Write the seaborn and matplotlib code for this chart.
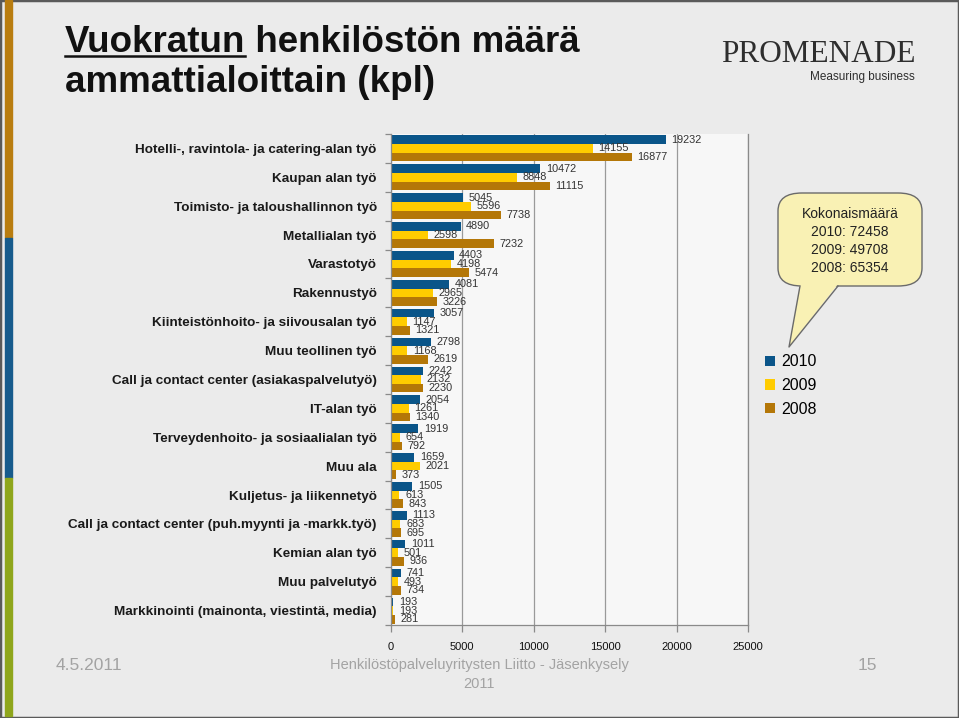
import matplotlib
matplotlib.use("Agg")
import matplotlib.pyplot as plt
import seaborn as sns
import pandas as pd
from matplotlib.patches import Rectangle, FancyBboxPatch, Polygon
from matplotlib.lines import Line2D

occupations = [
    "Hotelli-, ravintola- ja catering-alan työ",
    "Kaupan alan työ",
    "Toimisto- ja taloushallinnon työ",
    "Metallialan työ",
    "Varastotyö",
    "Rakennustyö",
    "Kiinteistönhoito- ja siivousalan työ",
    "Muu teollinen työ",
    "Call ja contact center (asiakaspalvelutyö)",
    "IT-alan työ",
    "Terveydenhoito- ja sosiaalialan työ",
    "Muu ala",
    "Kuljetus- ja liikennetyö",
    "Call ja contact center (puh.myynti ja -markk.työ)",
    "Kemian alan työ",
    "Muu palvelutyö",
    "Markkinointi (mainonta, viestintä, media)",
]
values_2010 = [19232, 10472, 5045, 4890, 4403, 4081, 3057, 2798, 2242, 2054, 1919, 1659, 1505, 1113, 1011, 741, 193]
values_2009 = [14155, 8848, 5596, 2598, 4198, 2965, 1147, 1168, 2132, 1261, 654, 2021, 613, 683, 501, 493, 193]
values_2008 = [16877, 11115, 7738, 7232, 5474, 3226, 1321, 2619, 2230, 1340, 792, 373, 843, 695, 936, 734, 281]
years = ["2010", "2009", "2008"]
totals = [72458, 49708, 65354]
year_colors = ["#0a5589", "#ffcc00", "#b47708"]

W, H = 959, 718


def fx(px):
    return px / W


def fy(py):
    return 1 - py / H


df = pd.DataFrame({
    "Ammattiala": occupations * 3,
    "Vuosi": [y for y in years for _ in occupations],
    "Määrä": values_2010 + values_2009 + values_2008,
})

plt.rcParams["font.family"] = ["Liberation Sans", "DejaVu Sans"]

fig = plt.figure(figsize=(W / 100, H / 100), dpi=100, facecolor="#ebebeb")

# slide frame and coloured stripe on the left
fig.patches.append(Rectangle((0, 0), 1, 1, transform=fig.transFigure, fill=False,
                             edgecolor="#5a5a5a", lw=2.5, zorder=0))
for y0, y1, c in [(0, 238, "#b97d10"), (238, 478, "#175b8c"), (478, 716, "#8fa61c")]:
    fig.patches.append(Rectangle((fx(5), fy(y1)), fx(7), (y1 - y0) / H,
                                 transform=fig.transFigure, color=c, zorder=1))

ax = fig.add_axes([fx(390.7), fy(625), fx(748 - 390.7), (625 - 134) / H])
ax.set_facecolor("#f7f7f7")

sns.barplot(data=df, y="Ammattiala", x="Määrä", hue="Vuosi", hue_order=years,
            palette=year_colors, orient="h", width=0.9, saturation=1,
            errorbar=None, linewidth=0, ax=ax)

for cont in ax.containers:
    ax.bar_label(cont, padding=4, fontsize=7.8, color="#333333")

ax.set_xlim(0, 25000)
ax.set_xticks(range(0, 25001, 5000))
ax.xaxis.grid(True, color="#9a9a9a", lw=0.9)
ax.set_axisbelow(True)
ax.set_xlabel("")
ax.set_ylabel("")
ax.set_yticks([i - 0.5 for i in range(len(occupations) + 1)], minor=True)
ax.tick_params(axis="y", which="major", length=0, pad=10, labelsize=9.7, labelcolor="#1a1a1a")
ax.tick_params(axis="y", which="minor", length=4, color="#8a8a8a", width=0.9)
ax.tick_params(axis="x", length=5, color="#8a8a8a", width=0.9, pad=7, labelsize=8, labelcolor="#111111")
for lab in ax.get_yticklabels():
    lab.set_fontweight("bold")
ax.spines["top"].set_visible(False)
for s in ["left", "bottom", "right"]:
    ax.spines[s].set_color("#8a8a8a")
    ax.spines[s].set_linewidth(0.9)

handles, labels = ax.get_legend_handles_labels()
ax.legend_.remove()
fig.legend(handles, labels, loc="upper left", bbox_to_anchor=(fx(751), fy(340)),
           frameon=False, handlelength=0.6, handleheight=0.6, handletextpad=0.4,
           labelspacing=0.55, fontsize=11.5)

# callout with totals
box = FancyBboxPatch((fx(778), fy(286)), fx(922 - 778), (286 - 193) / H,
                     boxstyle="round,pad=0,rounding_size=0.025", transform=fig.transFigure,
                     facecolor="#f9f1b4", edgecolor="#6a6a6a", lw=1.0, zorder=2)
fig.patches.append(box)
tail = [(fx(800), fy(284)), (fx(838), fy(284)), (fx(789), fy(347))]
fig.patches.append(Polygon(tail, closed=True, transform=fig.transFigure,
                           facecolor="#f9f1b4", edgecolor="none", zorder=3))
fig.lines.append(Line2D([fx(800), fx(789), fx(838)], [fy(286), fy(347), fy(286)],
                        transform=fig.transFigure, color="#6a6a6a", lw=1.0, zorder=4))
total_text = "Kokonaismäärä\n" + "\n".join(f"{y}: {t}" for y, t in zip(years, totals))
fig.text(fx(850), fy(241), total_text, ha="center", va="center", fontsize=10,
         linespacing=1.35, color="#222222", zorder=5)

# title
tsize = 26.5
t1 = fig.text(fx(65), fy(52), "Vuokratun", fontsize=tsize, fontweight="bold",
              va="baseline", ha="left", color="#111111")
fig.canvas.draw()
bb = t1.get_window_extent()
fig.text(bb.x1 / W, fy(52), " henkilöstön määrä", fontsize=tsize, fontweight="bold",
         va="baseline", ha="left", color="#111111")
fig.lines.append(Line2D([bb.x0 / W, bb.x1 / W], [fy(56), fy(56)], transform=fig.transFigure,
                        color="#111111", lw=1.8))
fig.text(fx(65), fy(92), "ammattialoittain (kpl)", fontsize=tsize, fontweight="bold",
         va="baseline", ha="left", color="#111111")

# logo
fig.text(fx(916), fy(62), "PROMENADE", fontsize=22.5, family=["Liberation Serif", "DejaVu Serif"],
         ha="right", va="baseline", color="#2e2e2e")
fig.text(fx(915), fy(80), "Measuring business", fontsize=8.5,
         ha="right", va="baseline", color="#2e2e2e")

# footer
foot = "#a3a3a3"
fig.text(fx(56), fy(670), "4.5.2011", fontsize=12.5, color=foot, va="baseline")
fig.text(fx(479), fy(658), "Henkilöstöpalveluyritysten Liitto - Jäsenkysely\n2011",
         fontsize=10.5, color=foot, ha="center", va="top", linespacing=1.45)
fig.text(fx(877), fy(670), "15", fontsize=12.5, color=foot, ha="right", va="baseline")

fig.savefig("out.png", dpi=100, facecolor=fig.get_facecolor())
